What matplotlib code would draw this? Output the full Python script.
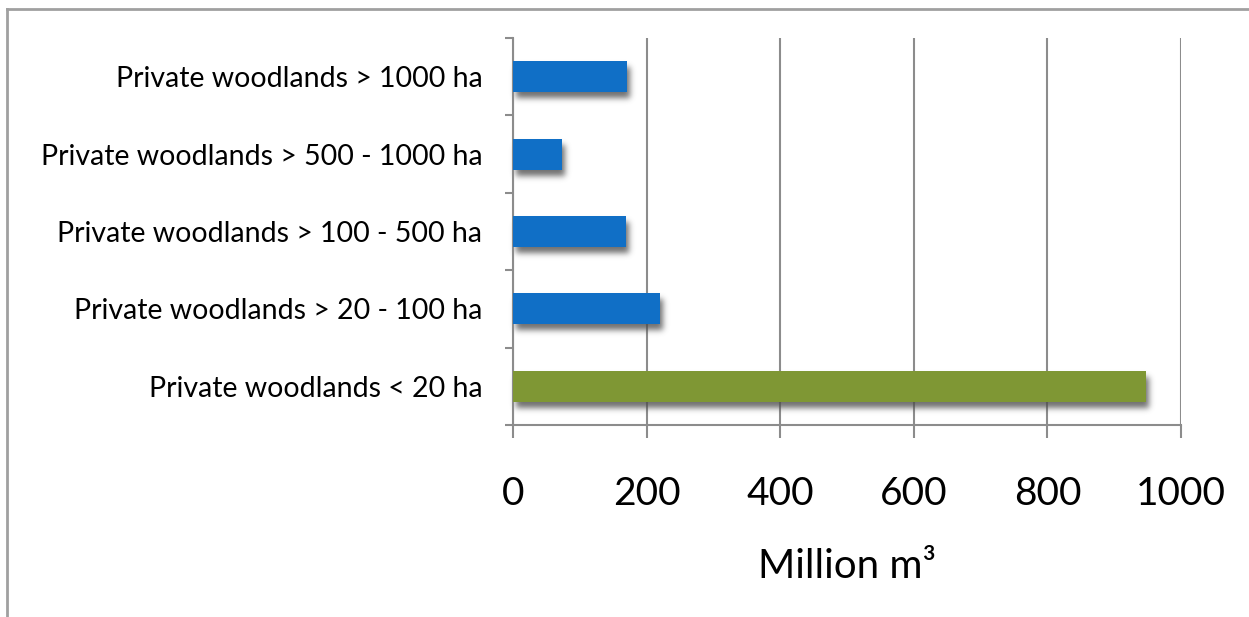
import numpy as np
import matplotlib
matplotlib.use("Agg")
import matplotlib.pyplot as plt
from matplotlib.lines import Line2D

plt.rcParams['font.family'] = ['Lato', 'DejaVu Sans']

categories = [
    "Private woodlands < 20 ha",
    "Private woodlands > 20 - 100 ha",
    "Private woodlands > 100 - 500 ha",
    "Private woodlands > 500 - 1000 ha",
    "Private woodlands > 1000 ha",
]
volumes = [947, 220, 169, 73, 170]
bar_colors = ["#7f9734", "#106fc6", "#106fc6", "#106fc6", "#106fc6"]
xticks = [0, 200, 400, 600, 800, 1000]

GRAY = "#8c8c8c"


def _blur1d(a, sigma, axis):
    r = int(3 * sigma)
    x = np.arange(-r, r + 1)
    k = np.exp(-0.5 * (x / sigma) ** 2)
    k /= k.sum()
    return np.apply_along_axis(lambda v: np.convolve(v, k, mode="same"), axis, a)


def drop_shadow(im, dpi, dx=3, dy=6, sigma=3, alpha=0.8):
    # blurred, offset copy of the bar shapes
    pad = 16
    a = np.pad(im[:, :, 3], pad)
    a = np.roll(a, dx, axis=1)
    a = np.roll(a, dy, axis=0)
    a = _blur1d(_blur1d(a, sigma, 0), sigma, 1)
    out = np.zeros(a.shape + (4,))
    out[..., :3] = 0.3
    out[..., 3] = np.clip(a * alpha, 0, 1)
    return out, -pad, -pad


fig = plt.figure(figsize=(12.49, 6.17), dpi=100)
ax = fig.add_axes([513 / 1249, 1 - 425 / 617, (1181 - 513) / 1249, (425 - 38) / 617])

y = np.arange(len(categories))
shadow = ax.barh(y, volumes, height=0.4, color="k", zorder=2)
for p in shadow:
    p.set_agg_filter(drop_shadow)
    p.set_rasterized(True)
ax.barh(y, volumes, height=0.4, color=bar_colors, zorder=3)

ax.set_xlim(0, 1000)
ax.set_ylim(-0.5, len(categories) - 0.5)
ax.set_xticks(xticks)
ax.set_xticklabels([str(t) for t in xticks], fontsize=28)
ax.set_yticks(y)
ax.set_yticklabels(categories, fontsize=20.5)
ax.set_yticks(np.arange(-0.5, len(categories)), minor=True)

ax.tick_params(axis="y", which="major", length=0, pad=22)
ax.tick_params(axis="y", which="minor", length=6, width=1.5, color=GRAY, direction="out")
ax.tick_params(axis="x", length=9, width=1.5, color=GRAY, direction="out", pad=28)

ax.grid(axis="x", color=GRAY, linewidth=1.5, zorder=0)
ax.set_axisbelow(True)
for s in ["top", "right"]:
    ax.spines[s].set_visible(False)
for s in ["left", "bottom"]:
    ax.spines[s].set_color(GRAY)
    ax.spines[s].set_linewidth(1.5)

ax.set_xlabel("Million m\u00b3", fontsize=29, labelpad=26)

# outer chart frame (only top and left edges are in view)
fig.add_artist(Line2D([6.5 / 1249, 6.5 / 1249], [0, 1 - 9 / 617],
                      transform=fig.transFigure, color="#a0a0a0", linewidth=2))
fig.add_artist(Line2D([6.5 / 1249, 1], [1 - 9 / 617, 1 - 9 / 617],
                      transform=fig.transFigure, color="#a0a0a0", linewidth=2))

fig.savefig("out.png", dpi=100)
